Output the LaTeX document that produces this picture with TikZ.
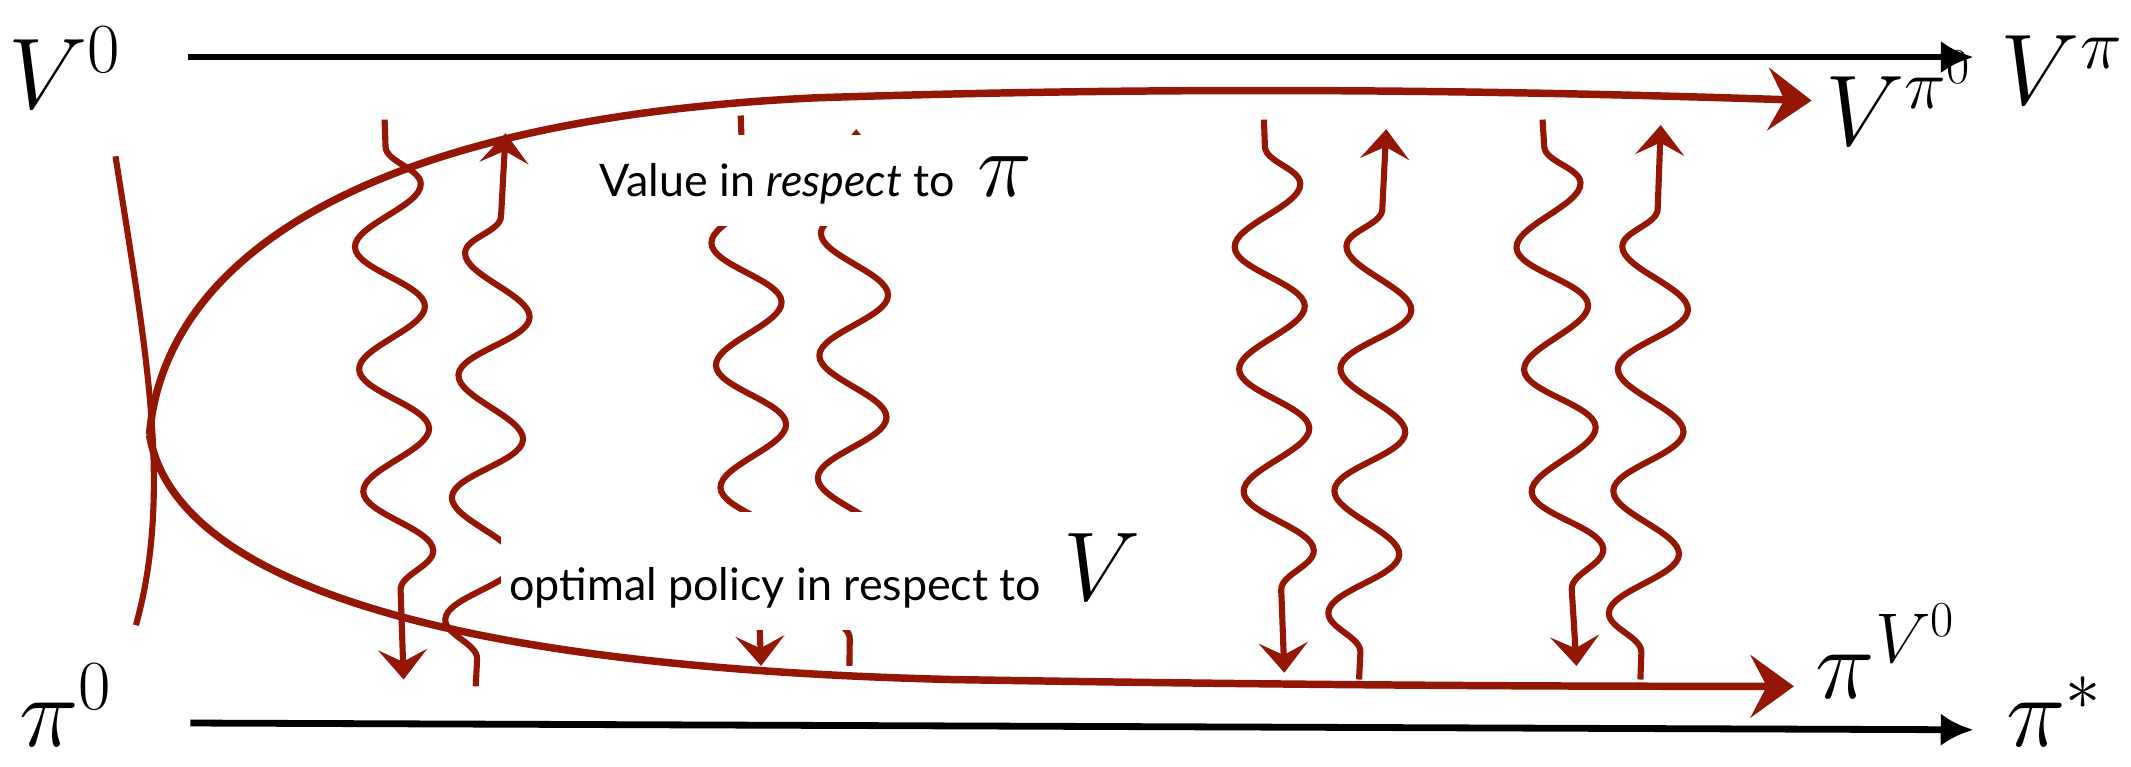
\RequirePackage{fix-cm}
\documentclass[tikz,border=0pt]{standalone}
\usepackage{fontspec}
\setsansfont{Lato}
\usepackage{tikz}
\usetikzlibrary{arrows.meta,decorations.pathmorphing,backgrounds,positioning}
\definecolor{sketchred}{RGB}{148,22,4}

\begin{document}
\begin{tikzpicture}[x=1pt, y=-1pt, >={Latex[length=24pt,width=24pt]}]
    % Styles
    \tikzset{
        mathlbl/.style={inner sep=0pt, anchor=base west, font=\fontsize{74}{80}\selectfont},
        textlbl/.style={fill=white, inner xsep=6pt, inner ysep=16pt, font=\sffamily\fontsize{33}{40}\selectfont},
        track/.style={draw, line width=5pt, ->},
        sweep/.style={draw=sketchred, line width=5.5pt, -{Stealth[length=32pt,width=46pt,inset=12pt]}},
        wiggle/.style={draw=sketchred, line width=4.5pt, -{Stealth[length=22pt,width=36pt,inset=9pt]},
            decorate, decoration={snake, segment length=90pt, amplitude=25pt, pre length=20pt, post length=26pt}}
    }
    \useasboundingbox (0,0) rectangle (1568,564);

    % Nodes
    \node [mathlbl] (vzero) at (6,80) {$V^0$};
    \node [mathlbl] (vpi) at (1472,77) {$V^\pi$};
    \node [mathlbl] (pizero) at (14,549) {$\pi^0$};
    \node [mathlbl] (pistar) at (1476,549) {$\pi^*$};
    \node [mathlbl] (vpizero) at (1343,107) {$V^{\pi^0}$};
    \node [mathlbl] (pivzero) at (1336,514) {$\pi^{V^0}$};

    \coordinate (vstart) at (138,42);
    \coordinate (vend) at (1452,42);
    \coordinate (pstart) at (140,532);
    \coordinate (pend) at (1452,537);
    \coordinate (apex) at (110,320);
    \coordinate (upend) at (1333,74);
    \coordinate (lowend) at (1320,505);
    \coordinate (crosstop) at (85,115);
    \coordinate (crossbot) at (100,460);

    % Wiggles (behind the labels)
    \begin{scope}[on background layer]
        \coordinate (d1a) at (283,88);   \coordinate (d1b) at (297,500);
        \coordinate (u1a) at (350,505);  \coordinate (u1b) at (372,98);
        \coordinate (d2a) at (545,85);   \coordinate (d2b) at (560,490);
        \coordinate (u2a) at (625,490);  \coordinate (u2b) at (630,95);
        \coordinate (d3a) at (930,88);   \coordinate (d3b) at (945,495);
        \coordinate (u3a) at (1000,500); \coordinate (u3b) at (1020,95);
        \coordinate (d4a) at (1135,88);  \coordinate (d4b) at (1160,490);
        \coordinate (u4a) at (1207,500); \coordinate (u4b) at (1222,92);
        \path [wiggle] (d1a) -- (d1b);
        \path [wiggle] (u1a) -- (u1b);
        \path [wiggle] (d2a) -- (d2b);
        \path [wiggle] (u2a) -- (u2b);
        \path [wiggle] (d3a) -- (d3b);
        \path [wiggle] (u3a) -- (u3b);
        \path [wiggle] (d4a) -- (d4b);
        \path [wiggle] (u4a) -- (u4b);
    \end{scope}

    \node [textlbl] (valuelbl) at (600,133) {Value in \textit{respect} to\enspace{\fontsize{68}{68}\selectfont$\pi$}};
    \node [textlbl] (policylbl) at (607,420) {optimal policy in respect to\enspace{\fontsize{72}{72}\selectfont$V$}};

    % Paths
    \path [track] (vstart) -- (vend);
    \path [track] (pstart) -- (pend);
    \path [sweep] (apex) .. controls (120,195) and (260,88) .. (600,72) .. controls (900,62) and (1150,68) .. (upend);
    \path [sweep] (apex) .. controls (127,420) and (300,490) .. (700,500) .. controls (1000,505) and (1200,505) .. (lowend);
    \path [draw=sketchred, line width=4.5pt] (crosstop) .. controls (106,250) and (128,360) .. (crossbot);
\end{tikzpicture}
\end{document}
